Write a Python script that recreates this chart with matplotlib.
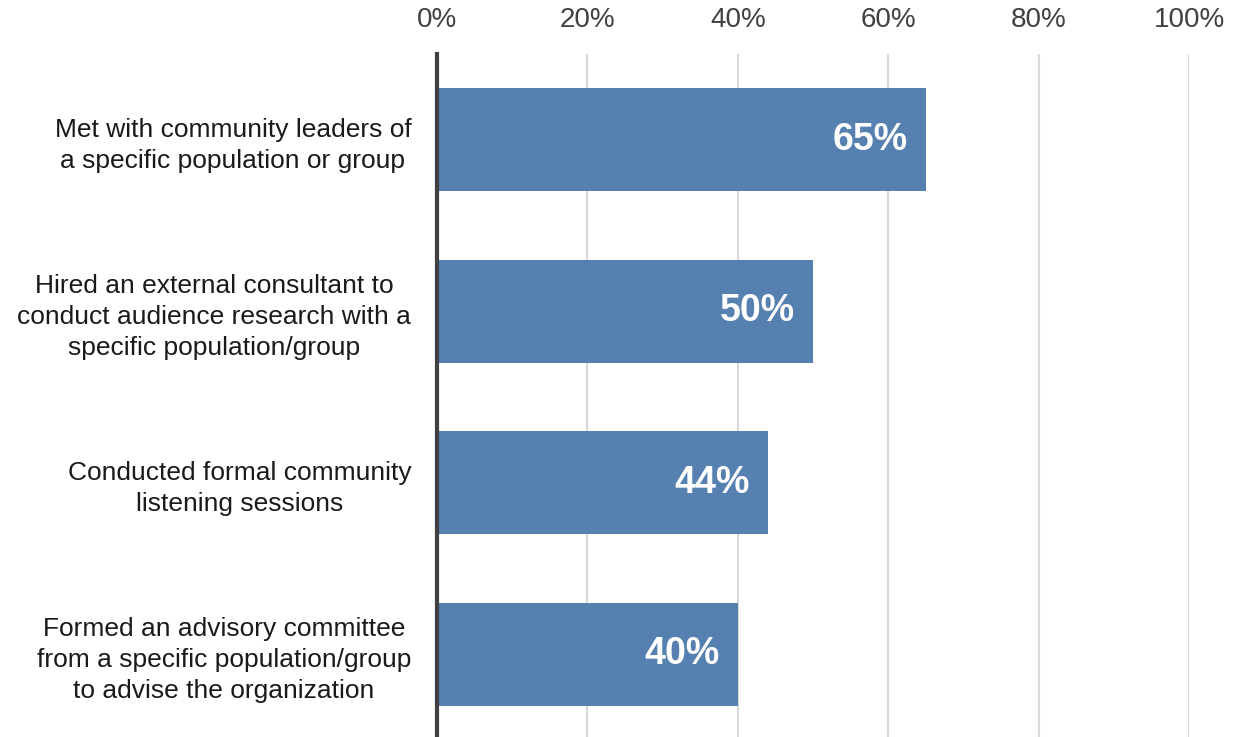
import matplotlib.pyplot as plt
from matplotlib.ticker import FuncFormatter

plt.rcParams['font.family'] = ['Liberation Sans', 'DejaVu Sans']

# survey responses, top to bottom
categories = [
    "Met with community leaders of\na specific population or group",
    "Hired an external consultant to\nconduct audience research with a\nspecific population/group",
    "Conducted formal community\nlistening sessions",
    "Formed an advisory committee\nfrom a specific population/group\nto advise the organization",
]
values = [65, 50, 44, 40]
xticks = [0, 20, 40, 60, 80, 100]

bar_color = '#5580b0'

fig = plt.figure(figsize=(12.43, 7.37), dpi=100)
ax = fig.add_axes([437 / 1243, -3 / 737, 752 / 1243, 686 / 737])

ypos = list(range(len(categories)))
ax.barh(ypos, values, height=0.6, color=bar_color, zorder=3)

# value labels inside the bar ends
for y, v in zip(ypos, values):
    ax.text(v - 2.4, y, f"{v}%", ha='right', va='center', color='white',
            fontsize=27, fontweight='bold', zorder=4)

ax.set_xlim(0, 100)
ax.set_ylim(len(categories) - 0.5, -0.5)
ax.set_xticks(xticks)
ax.xaxis.set_major_formatter(FuncFormatter(lambda x, _: f"{x:.0f}%"))
ax.xaxis.tick_top()
ax.tick_params(axis='x', length=0, pad=15, labelsize=20, labelcolor='#404040')
ax.grid(axis='x', color='#d9d9d9', linewidth=1.5, zorder=0)

ax.set_yticks(ypos)
ax.set_yticklabels(categories, fontsize=19, color='#1a1a1a', ha='right',
                   multialignment='center', linespacing=1.35)
ax.tick_params(axis='y', length=0, pad=18.5)

for side in ['top', 'right', 'bottom']:
    ax.spines[side].set_visible(False)
ax.spines['left'].set_color('#404040')
ax.spines['left'].set_linewidth(3)
ax.spines['left'].set_zorder(5)

fig.savefig('out.png', dpi=100)
